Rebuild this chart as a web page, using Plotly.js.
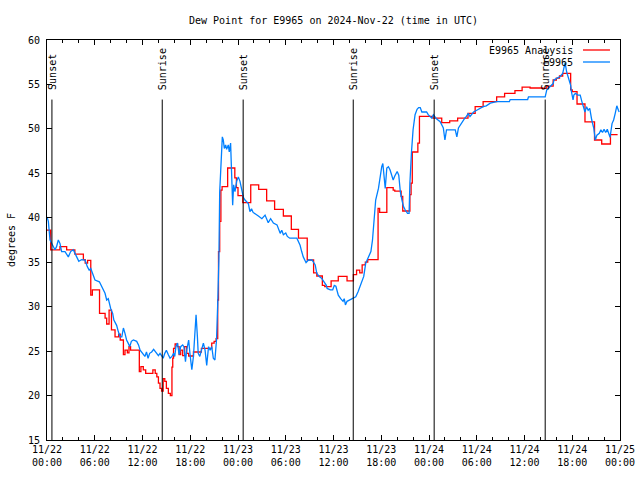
<!DOCTYPE html>
<html>
<head>
<meta charset="utf-8">
<script src="https://cdn.plot.ly/plotly-3.0.1.min.js"></script>
<style>html,body{margin:0;padding:0;background:#fff;}#chart{width:640px;height:480px;}</style>
</head>
<body>
<div id="chart"></div>
<script>
// Hours after 2024-11-22 00:00 UTC
const anaName = "E9965 Analysis";
const obsName = "E9965";

const anaHours = [0,0.46,1.63,2.47,3.5,4.57,4.8,5.1,5.5,5.7,6.6,7.3,7.5,7.8,8.1,8.55,9.0,9.2,9.6,9.8,10.1,10.3,10.5,11.6,11.8,12.1,12.4,13.3,13.6,13.8,14.0,14.2,14.4,14.6,14.8,15.0,15.25,15.5,15.7,15.8,15.9,16.1,16.4,16.6,16.8,17.05,17.3,17.55,17.8,18.4,19.4,20.7,21.0,21.25,21.45,21.55,21.7,21.85,22.0,22.7,23.6,23.8,24.0,24.6,25.6,26.6,27.6,28.6,29.7,30.7,31.6,32.7,33.5,33.9,34.6,34.9,35.7,36.6,37.7,38.5,38.9,39.3,39.6,40.0,40.3,41.6,41.8,42.7,43.5,43.7,44.5,44.7,45.6,45.75,45.9,46.6,46.8,48.5,49.6,50.6,51.6,52.9,53.8,54.8,56.5,57.5,58.8,59.7,60.7,62.3,62.8,63.6,64.0,64.4,64.8,65.8,66.0,66.6,67.6,68.8,69.7,70.8,71.7];
const anaValues = [38.6,36.4,36.75,36.4,35.9,35.3,34.9,35.2,31.3,31.9,29.25,28.7,28.05,29.6,27.4,26.6,26.9,26.25,24.6,25.1,24.8,25.5,25.1,22.7,23.25,22.9,22.5,22.9,22.5,22.1,21.4,20.8,20.5,21.9,21.6,20.8,20.25,20.0,23.2,24.2,25.3,25.8,25.5,24.6,25.1,24.5,25.5,24.75,24.45,24.9,25.3,25.9,26.1,26.4,30.75,36.2,39.6,43.1,43.5,45.6,44.5,43.4,42.5,41.7,43.7,43.2,41.9,40.95,40.2,38.7,37.7,35.25,33.8,33.45,32.4,32.25,32.9,33.4,32.9,33.6,34.1,33.8,34.7,35.0,35.3,41.05,40.6,43.4,43.1,43.0,42.4,40.76,42.6,43.9,47.4,48.4,51.4,51.2,50.7,50.9,51.2,51.75,52.5,53.06,53.6,54.0,54.3,54.7,54.6,54.55,54.8,55.5,55.7,55.95,56.25,54.4,54.2,52.8,50.8,48.75,48.3,49.35,49.35];

const obsHours = [0,0.17,0.38,0.59,0.8,1.0,1.2,1.42,1.63,1.84,2.26,2.68,2.97,3.3,3.73,4.0,4.36,4.78,5.07,5.3,5.5,5.82,6.03,6.58,6.87,7.29,7.5,7.7,8.0,8.25,8.4,8.75,8.96,9.17,9.4,9.6,9.8,10.0,10.2,10.4,10.6,10.85,11.27,11.5,11.7,12.0,12.3,12.5,12.7,12.9,13.15,13.4,13.6,13.8,14.0,14.2,14.4,14.6,14.8,15.0,15.25,15.46,15.7,15.9,16.05,16.2,16.4,16.6,16.8,17.05,17.2,17.4,17.55,17.8,18.0,18.2,18.4,18.6,18.73,18.9,19.0,19.2,19.4,19.65,19.86,20.07,20.3,20.5,20.7,20.9,21.1,21.3,21.45,21.6,21.7,21.86,22.03,22.15,22.28,22.45,22.57,22.78,22.9,23.07,23.2,23.33,23.45,23.62,23.83,24.04,24.25,24.46,24.67,24.88,25.1,25.3,25.5,25.7,25.9,26.1,26.56,27.0,27.4,27.8,28.1,28.45,28.9,29.3,29.5,29.7,30.0,30.2,30.5,31.4,31.8,32.0,32.2,32.55,32.85,33.3,33.7,33.9,34.2,34.5,34.8,35.1,35.2,35.6,35.9,36.1,36.3,36.6,36.9,37.2,37.35,37.5,37.7,38.1,38.5,38.8,39.1,39.4,39.8,40.05,40.4,40.7,40.9,41.1,41.3,41.65,41.85,42.06,42.2,42.35,42.5,42.7,42.9,43.1,43.3,43.5,43.7,44.0,44.2,44.4,44.6,44.8,45.0,45.3,45.5,45.6,45.8,46.0,46.25,46.5,46.7,46.9,47.1,47.7,47.9,48.1,48.35,48.55,48.97,49.4,49.8,50.0,50.2,51.3,51.5,51.7,51.9,52.2,52.5,52.7,52.95,53.15,53.35,53.6,54.0,54.4,54.8,55.2,55.7,56.5,58.1,58.2,60.4,60.5,62.6,62.8,63.2,63.6,63.7,64.1,64.47,64.8,64.9,65.1,65.3,65.5,65.6,65.8,65.9,66.1,66.2,66.4,66.7,67.0,67.2,67.4,67.6,67.8,68.0,68.2,68.3,68.45,68.7,68.9,69.1,69.4,69.6,69.8,70.0,70.2,70.4,70.6,70.75,71.0,71.2,71.4,71.6,71.8,71.9];
const obsValues = [40.1,39.6,37.5,37.1,36.6,36.4,36.75,37.5,37.1,36.2,36.2,35.6,36.2,36.4,35.6,35.1,35.3,35.25,34.5,34.1,34.3,33.4,33.0,32.8,32.25,31.5,30.75,30.9,29.8,29.25,28.5,27.9,27.2,26.6,26.6,27.6,27.0,26.25,25.9,25.5,26.1,26.25,26.1,25.7,25.1,24.75,24.4,24.9,24.2,24.75,24.9,25.2,25.0,24.75,24.5,24.75,24.4,24.2,24.75,25.1,24.6,24.2,24.4,24.75,24.4,25.5,25.9,24.6,25.5,25.7,25.5,23.8,25.1,26.25,24.4,22.9,24.4,27.2,29.1,26.6,24.75,24.4,25.1,25.9,25.1,23.4,25.5,25.1,25.5,24.2,24.0,26.25,30.3,35.4,42.9,47.1,49.1,48.75,47.8,48.2,47.7,48.2,47.4,48.4,44.8,41.4,43.7,42.94,44.1,44.6,44.1,43.1,42.3,42.0,41.8,41.6,40.7,41.0,40.6,40.5,40.2,39.9,40.3,39.45,39.9,39.4,39.2,38.25,38.6,38.1,38.3,37.9,37.7,37.7,36.9,36.2,35.6,34.95,35.25,35.25,34.7,33.75,33.4,33.2,32.8,32.4,32.05,31.9,31.9,32.4,32.3,31.3,30.9,30.6,30.9,30.2,30.6,30.75,30.9,31.1,31.7,32.4,33.4,34.9,35.6,36.2,37.5,39.75,42.0,43.3,44.6,45.75,46.1,44.25,43.3,45.6,45.75,45.4,44.8,44.25,44.7,45.2,44.8,42.9,42.0,41.25,40.9,40.5,40.5,43.9,47.4,49.9,51.6,52.2,52.4,52.4,51.9,51.9,51.6,51.4,51.2,51.6,51.1,50.8,50.1,48.75,49.9,49.9,49.1,50.1,50.4,50.8,51.2,51.4,51.75,51.4,51.6,51.9,52.1,52.3,52.5,52.6,52.9,53.06,53.06,53.3,53.3,53.6,53.6,54.4,54.75,55.1,55.5,55.7,55.9,56.25,56.6,57.45,56.4,55.9,55.5,54.9,54.2,53.25,53.8,54.0,53.8,53.8,53.1,52.5,51.9,52.5,52.1,52.3,51.6,51.0,50.1,48.75,49.3,49.5,49.9,49.6,49.95,49.6,49.95,49.5,49.05,50.6,51.0,51.75,52.6,52.1,51.9];

const eventHours = [0.62,14.48,24.65,38.48,48.65,62.6];
const eventLabels = ["Sunset","Sunrise","Sunset","Sunrise","Sunset","Sunrise"];

const BASE = Date.UTC(2024,10,22,0,0,0);
function toDate(h){
  const d = new Date(BASE + Math.round(h*3600000));
  return d.toISOString().slice(0,19).replace('T',' ');
}

const FONT = "DejaVu Sans Mono, Liberation Mono, monospace";
const RED = "#ff0000", BLUE = "#0080ff";

const traces = [
  {x: anaHours.map(toDate), y: anaValues, name: anaName, type: "scatter", mode: "lines",
   line: {color: RED, width: 1.3, shape: "hv"}},
  {x: obsHours.map(toDate), y: obsValues, name: obsName, type: "scatter", mode: "lines",
   line: {color: BLUE, width: 1.3}}
];

const shapes = eventHours.map(h => ({type: "line", xref: "x", yref: "y",
  x0: toDate(h), x1: toDate(h), y0: 15, y1: 53.3, line: {color: "#000", width: 1}}));
const annotations = eventHours.map((h, i) => ({xref: "x", yref: "y", x: toDate(h), y: 54.15,
  text: eventLabels[i], textangle: -90, showarrow: false, xanchor: "center", yanchor: "bottom",
  font: {family: FONT, size: 10, color: "#000"}}));

// manual gnuplot-style legend (text right, sample line after)
const legendRows = [[anaName, RED, 0.975], [obsName, BLUE, 0.945]];
legendRows.forEach(r => {
  annotations.push({xref: "paper", yref: "paper", x: 0.9215, y: r[2], text: r[0], showarrow: false,
    xanchor: "right", yanchor: "middle", font: {family: FONT, size: 10, color: "#000"}});
  shapes.push({type: "line", xref: "paper", yref: "paper", x0: 0.9354, x1: 0.9825, y0: r[2], y1: r[2],
    line: {color: r[1], width: 1.3}});
});

const layout = {
  width: 640, height: 480,
  margin: {l: 47, r: 20, t: 40, b: 40},
  paper_bgcolor: "#fff", plot_bgcolor: "#fff",
  showlegend: false,
  font: {family: FONT, size: 10, color: "#000"},
  title: {text: "Dew Point for E9965 on 2024-Nov-22 (time in UTC)", font: {family: FONT, size: 10},
    xref: "paper", x: 0.5, yref: "container", y: 0.958, yanchor: "middle"},
  xaxis: {type: "date", range: [toDate(0), toDate(72)], tick0: toDate(0), dtick: 6*3600000,
    tickformat: "%m/%d<br>%H:%M", ticks: "inside", ticklen: 5, tickcolor: "#000",
    showline: true, linecolor: "#000", linewidth: 1, mirror: "ticks", showgrid: false, zeroline: false,
    minor: {dtick: 2*3600000, ticks: "inside", ticklen: 3, tickcolor: "#000", showgrid: false},
    tickfont: {family: FONT, size: 10}},
  yaxis: {range: [15, 60], dtick: 5, ticks: "inside", ticklen: 5, tickcolor: "#000",
    showline: true, linecolor: "#000", linewidth: 1, mirror: "ticks", showgrid: false, zeroline: false,
    tickfont: {family: FONT, size: 10}, ticklabelstandoff: 4,
    title: {text: "degrees F", font: {family: FONT, size: 10}, standoff: 10}},
  shapes: shapes,
  annotations: annotations
};

Plotly.newPlot("chart", traces, layout, {displayModeBar: false, staticPlot: true});
</script>
</body>
</html>
